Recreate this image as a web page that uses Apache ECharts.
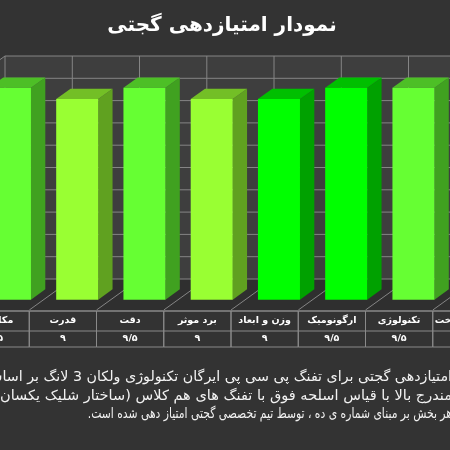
<!DOCTYPE html>
<html>
<head>
<meta charset="utf-8">
<script src="https://cdn.jsdelivr.net/npm/echarts@6/dist/echarts.min.js"></script>
<style>
html,body{margin:0;padding:0;background:#333333;}
#chart{width:450px;height:450px;}
</style>
</head>
<body>
<div id="chart" dir="rtl"></div>
<script>
// Categories listed right-to-left (first item sits at the right end)
const categories = ['کیفیت ساخت', 'تکنولوژی', 'ارگونومیک', 'وزن و ابعاد', 'برد موثر', 'دقت', 'قدرت', 'مکانیزم'];
const scores = [9, 9.5, 9.5, 9, 9, 9.5, 9, 9.5];
const barColors = ['#99FF33', '#66FF33', '#00FF00', '#00FF00', '#99FF33', '#66FF33', '#99FF33', '#66FF33'];
const yTicks = [0, 1, 2, 3, 4, 5, 6, 7, 8, 9, 10];
const titleText = 'نمودار امتیازدهی گجتی';
const noteLines = [
  'امتیازدهی گجتی برای تفنگ پی سی پی ایرگان تکنولوژی ولکان 3 لانگ بر اساس',
  'مندرج بالا با قیاس اسلحه فوق با تفنگ های هم کلاس (ساختار شلیک یکسان) ،',
  'هر بخش بر مبنای شماره ی ده ، توسط تیم تخصصی گجتی امتیاز دهی شده است.'
];

const FONT = "'DejaVu Sans', sans-serif";
// oblique depth of the 3D box (pixels from front edge to back wall)
const DX = 43, DY = 31;
const F1 = 1 / 3, F2 = 2 / 3;   // bar depth span inside the box
const BAR_FRAC = 0.625;
const TABLE_Y = [311, 331, 347];
// paragraph box for the note (justified, right-to-left)
const NOTE_FONT = '14px ' + FONT;
const NOTE_BOX = [-15, 452];
const NOTE_Y = [377, 396, 414];
const NOTE_SCALE = 0.77;

function shade(hex, k) {
  const n = parseInt(hex.slice(1), 16);
  const r = Math.round(((n >> 16) & 255) * k);
  const g = Math.round(((n >> 8) & 255) * k);
  const b = Math.round((n & 255) * k);
  return 'rgb(' + r + ',' + g + ',' + b + ')';
}
function toFa(v) {
  return String(v).replace('.', '/').replace(/[0-9]/g, d => '۰۱۲۳۴۵۶۷۸۹'[d]);
}
function bounds(api) {
  const n = categories.length;
  const bw = api.size([1, 0])[0];
  let lo = Infinity, hi = -Infinity;
  const edges = [];
  for (let i = 0; i < n; i++) {
    const c = api.coord([i, 0])[0];
    lo = Math.min(lo, c - bw / 2);
    hi = Math.max(hi, c + bw / 2);
    edges.push(c - bw / 2, c + bw / 2);
  }
  return { bw, lo, hi, edges: Array.from(new Set(edges.map(e => Math.round(e * 10) / 10))) };
}

const lineStyle = { stroke: '#858585', lineWidth: 1 };

function renderBox(params, api) {
  const b = bounds(api);
  const y0 = api.coord([0, 0])[1];
  const y10 = api.coord([0, yTicks[yTicks.length - 1]])[1];
  const kids = [];
  kids.push({ type: 'polygon', shape: { points: [[b.lo + DX, y10 - DY], [b.hi + DX, y10 - DY], [b.hi + DX, y0 - DY], [b.lo + DX, y0 - DY]] }, style: { fill: '#3e3e3e' } });
  kids.push({ type: 'polygon', shape: { points: [[b.lo, y10], [b.lo + DX, y10 - DY], [b.lo + DX, y0 - DY], [b.lo, y0]] }, style: { fill: '#3e3e3e' } });
  kids.push({ type: 'polygon', shape: { points: [[b.lo, y0], [b.hi, y0], [b.hi + DX, y0 - DY], [b.lo + DX, y0 - DY]] }, style: { fill: '#2f2f2f' } });
  yTicks.forEach(t => {
    const y = api.coord([0, t])[1];
    kids.push({ type: 'line', shape: { x1: b.lo + DX, y1: y - DY, x2: b.hi + DX, y2: y - DY }, style: lineStyle });
    kids.push({ type: 'line', shape: { x1: b.lo, y1: y, x2: b.lo + DX, y2: y - DY }, style: lineStyle });
  });
  b.edges.forEach(x => {
    kids.push({ type: 'line', shape: { x1: x + DX, y1: y10 - DY, x2: x + DX, y2: y0 - DY }, style: lineStyle });
    kids.push({ type: 'line', shape: { x1: x, y1: y0, x2: x + DX, y2: y0 - DY }, style: lineStyle });
  });
  return { type: 'group', children: kids };
}

function renderBar(params, api) {
  const i = api.value(0), v = api.value(1);
  const bw = api.size([1, 0])[0];
  const half = bw * BAR_FRAC / 2;
  const c = api.coord([i, 0]);
  const top = api.coord([i, v])[1];
  const x1 = c[0] - half + DX * F1, x2 = c[0] + half + DX * F1;
  const yb = c[1] - DY * F1, yt = top - DY * F1;
  const ddx = DX * (F2 - F1), ddy = DY * (F2 - F1);
  const col = barColors[i];
  return {
    type: 'group',
    children: [
      { type: 'polygon', shape: { points: [[x2, yt], [x2 + ddx, yt - ddy], [x2 + ddx, yb - ddy], [x2, yb]] }, style: { fill: shade(col, 0.63) } },
      { type: 'polygon', shape: { points: [[x1, yt], [x2, yt], [x2 + ddx, yt - ddy], [x1 + ddx, yt - ddy]] }, style: { fill: shade(col, 0.75) } },
      { type: 'rect', shape: { x: x1, y: yt, width: x2 - x1, height: yb - yt }, style: { fill: col } }
    ]
  };
}

function renderTable(params, api) {
  const i = api.value(0), v = api.value(1);
  const bw = api.size([1, 0])[0];
  const c = api.coord([i, 0])[0];
  const tl = { stroke: '#8a8a8a', lineWidth: 1 };
  return {
    type: 'group',
    children: [
      { type: 'line', shape: { x1: c - bw / 2, y1: TABLE_Y[0], x2: c - bw / 2, y2: TABLE_Y[2] }, style: tl },
      { type: 'line', shape: { x1: c + bw / 2, y1: TABLE_Y[0], x2: c + bw / 2, y2: TABLE_Y[2] }, style: tl },
      { type: 'line', shape: { x1: c - bw / 2, y1: TABLE_Y[0], x2: c + bw / 2, y2: TABLE_Y[0] }, style: { stroke: '#8a8a8a', lineWidth: 1.5 } },
      { type: 'line', shape: { x1: c - bw / 2, y1: TABLE_Y[1], x2: c + bw / 2, y2: TABLE_Y[1] }, style: tl },
      { type: 'line', shape: { x1: c - bw / 2, y1: TABLE_Y[2], x2: c + bw / 2, y2: TABLE_Y[2] }, style: tl },
      { type: 'text', x: c, y: (TABLE_Y[0] + TABLE_Y[1]) / 2, style: { text: categories[i], fill: '#ffffff', font: 'bold 9.5px ' + FONT, align: 'center', verticalAlign: 'middle' } },
      { type: 'text', x: c, y: (TABLE_Y[1] + TABLE_Y[2]) / 2, style: { text: toFa(v), fill: '#ffffff', font: 'bold 9.5px ' + FONT, align: 'center', verticalAlign: 'middle' } }
    ]
  };
}

// Note paragraph, right-to-left: full lines are stretched to the box width
// (like kashida justification), the last line keeps its natural width.
function noteGraphics() {
  const ctx = document.createElement('canvas').getContext('2d');
  ctx.font = NOTE_FONT;
  const boxW = NOTE_BOX[1] - NOTE_BOX[0];
  return noteLines.map((line, li) => {
    const last = li === noteLines.length - 1;
    const sx = last ? NOTE_SCALE : boxW / ctx.measureText(line).width;
    return {
      type: 'text', x: NOTE_BOX[1], y: NOTE_Y[li], scaleX: sx,
      style: { text: line, fill: '#f2f2f2', font: NOTE_FONT, align: 'right', verticalAlign: 'middle' }
    };
  });
}

const chart = echarts.init(document.getElementById('chart'), null, { renderer: 'canvas' });
const items = scores.map((v, i) => [i, v]);

chart.setOption({
  backgroundColor: '#333333',
  animation: false,
  grid: { left: -38, right: -50, top: 87, bottom: 140, outerBoundsMode: 'none' },
  xAxis: { type: 'category', data: categories, inverse: true, show: false },
  yAxis: { type: 'value', min: 0, max: 10, interval: 1, show: false },
  series: [
    { type: 'custom', name: 'box', data: [[0, 0]], renderItem: renderBox, silent: true, z: 1, clip: false },
    { type: 'custom', name: 'scores', data: items, renderItem: renderBar, z: 2, clip: false },
    { type: 'custom', name: 'table', data: items, renderItem: renderTable, z: 3, clip: false }
  ],
  graphic: [
    { type: 'text', x: 222, y: 26, style: { text: titleText, fill: '#ffffff', font: 'bold 20px ' + FONT, align: 'center', verticalAlign: 'middle' } }
  ].concat(noteGraphics())
});
</script>
</body>
</html>
